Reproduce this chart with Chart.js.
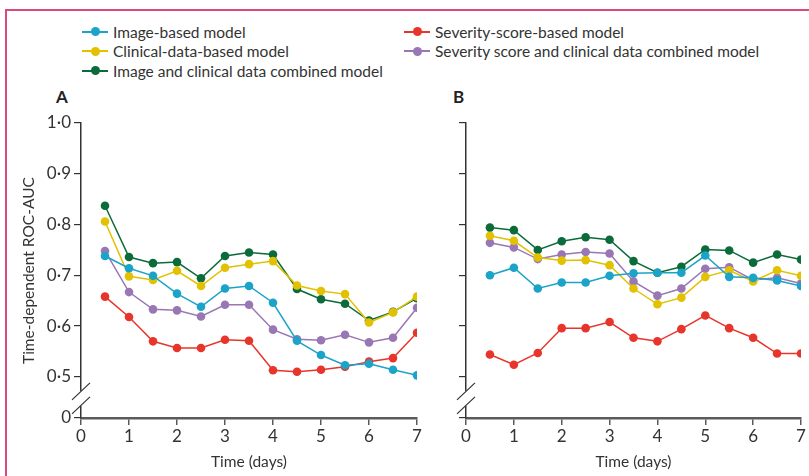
<!DOCTYPE html>
<html>
<head>
<meta charset="utf-8">
<script src="https://cdn.jsdelivr.net/npm/chart.js@4/dist/chart.umd.min.js"></script>
<style>
  body { margin: 0; background: #fff; font-family: Lato, "Open Sans", sans-serif; color: #333; }
  #stage { position: relative; width: 809px; height: 476px; overflow: hidden; }
  #frame { position: absolute; left: 5px; top: 9px; width: 900px; height: 600px;
           border-top: 2px solid #dc4a7c; border-left: 2px solid #dc4a7c; }
  #legend { position: absolute; left: 82px; top: 22px; display: grid;
            grid-template-columns: 322px auto; grid-auto-rows: 19.5px; font-size: 15.5px; }
  .item { display: flex; align-items: center; white-space: nowrap; }
  .mark { position: relative; width: 26px; height: 10px; margin-right: 5px; }
  .mark .ln { position: absolute; left: 0; right: 0; top: 4px; height: 2px; }
  .mark .dot { position: absolute; left: 8.5px; top: 0.5px; width: 9px; height: 9px; border-radius: 50%; }
  .panel-label { position: absolute; font-weight: bold; font-size: 17px; color: #222; }
  canvas { position: absolute; top: 0; }
</style>
</head>
<body>
<div id="stage">
  <div id="frame"></div>
  <div id="legend"></div>
  <div class="panel-label" style="left:56px;top:86px">A</div>
  <div class="panel-label" style="left:453px;top:86px">B</div>
  <canvas id="chartA" width="430" height="476" style="left:0"></canvas>
  <canvas id="chartB" width="379" height="476" style="left:430px"></canvas>
</div>
<script>
// Time points (days) and axis ticks
const days = [0.5, 1, 1.5, 2, 2.5, 3, 3.5, 4, 4.5, 5, 5.5, 6, 6.5, 7];
const xTicks = [0, 1, 2, 3, 4, 5, 6, 7];
const yTicks = [0.5, 0.6, 0.7, 0.8, 0.9, 1.0];
const yZero = 0.419; // value where the broken axis shows "0"

const seriesNames = [
  "Image-based model",
  "Severity-score-based model",
  "Clinical-data-based model",
  "Severity score and clinical data combined model",
  "Image and clinical data combined model",
];
const seriesColors = ["#1ba3c8", "#e8352b", "#e2c100", "#9977b5", "#0b6b3a"];

// Panel A
const imageA = [0.738, 0.714, 0.699, 0.664, 0.638, 0.674, 0.679, 0.646, 0.571, 0.543, 0.523, 0.526, 0.514, 0.503];
const severityA = [0.658, 0.618, 0.570, 0.557, 0.557, 0.573, 0.571, 0.513, 0.510, 0.514, 0.520, 0.530, 0.537, 0.587];
const clinicalA = [0.806, 0.698, 0.691, 0.709, 0.679, 0.715, 0.722, 0.728, 0.680, 0.669, 0.663, 0.607, 0.627, 0.658];
const sevClinA = [0.748, 0.667, 0.633, 0.631, 0.619, 0.642, 0.642, 0.593, 0.574, 0.572, 0.583, 0.568, 0.577, 0.636];
const imgClinA = [0.837, 0.736, 0.724, 0.726, 0.694, 0.738, 0.745, 0.741, 0.673, 0.653, 0.644, 0.611, 0.628, 0.655];

// Panel B
const imageB = [0.700, 0.715, 0.674, 0.686, 0.686, 0.699, 0.704, 0.705, 0.705, 0.739, 0.697, 0.695, 0.690, 0.679];
const severityB = [0.544, 0.524, 0.547, 0.596, 0.596, 0.608, 0.577, 0.570, 0.594, 0.621, 0.596, 0.577, 0.546, 0.546];
const clinicalB = [0.778, 0.768, 0.735, 0.729, 0.730, 0.720, 0.674, 0.643, 0.656, 0.697, 0.710, 0.688, 0.710, 0.699];
const sevClinB = [0.764, 0.755, 0.732, 0.741, 0.746, 0.743, 0.688, 0.660, 0.674, 0.713, 0.716, 0.691, 0.695, 0.684];
const imgClinB = [0.794, 0.789, 0.750, 0.767, 0.775, 0.770, 0.728, 0.705, 0.717, 0.751, 0.749, 0.725, 0.741, 0.731];

const textColor = "#333";
const tickFont = { family: "Lato, 'Open Sans', sans-serif", size: 17 };
const titleFont = { family: "Lato, 'Open Sans', sans-serif", size: 15.5 };

// Legend (HTML, two columns)
const legendEl = document.getElementById("legend");
seriesNames.forEach((name, i) => {
  const item = document.createElement("div");
  item.className = "item";
  item.innerHTML =
    '<span class="mark"><span class="ln" style="background:' + seriesColors[i] + '"></span>' +
    '<span class="dot" style="background:' + seriesColors[i] + '"></span></span>' +
    "<span>" + name + "</span>";
  legendEl.appendChild(item);
});

// Break marks on the y axis between 0 and 0.5
const axisBreak = {
  id: "axisBreak",
  afterDraw(chart) {
    const { ctx, chartArea } = chart;
    const y5 = chart.scales.y.getPixelForValue(yTicks[0]);
    const x = chartArea.left;
    ctx.save();
    ctx.fillStyle = "#fff";
    ctx.fillRect(x - 2, y5 + 14, 4, 15);
    ctx.strokeStyle = "#333";
    ctx.lineWidth = 1.2;
    ctx.beginPath();
    ctx.moveTo(x - 9, y5 + 23);
    ctx.lineTo(x + 9, y5 + 6);
    ctx.moveTo(x - 9, y5 + 37);
    ctx.lineTo(x + 9, y5 + 20);
    ctx.stroke();
    ctx.restore();
  },
};

function makePanel(canvasId, values, opt) {
  const datasets = values.map((vals, i) => ({
    label: seriesNames[i],
    data: days.map((d, j) => ({ x: d, y: vals[j] })),
    borderColor: seriesColors[i],
    backgroundColor: seriesColors[i],
    borderWidth: 1.5,
    pointRadius: 4.3,
    pointBorderWidth: 0,
    pointBackgroundColor: seriesColors[i],
  }));

  return new Chart(document.getElementById(canvasId), {
    type: "line",
    data: { datasets },
    plugins: [axisBreak],
    options: {
      responsive: false,
      animation: false,
      layout: { padding: { top: 123, right: opt.padRight, bottom: 0, left: 0 } },
      plugins: { legend: { display: false }, tooltip: { enabled: false } },
      scales: {
        x: {
          type: "linear",
          min: xTicks[0],
          max: xTicks[xTicks.length - 1],
          afterBuildTicks: (s) => { s.ticks = xTicks.map((v) => ({ value: v })); },
          afterFit: (s) => { s.height = 58; },
          ticks: { font: tickFont, color: textColor, padding: 1, maxRotation: 0, autoSkip: false },
          grid: { drawOnChartArea: false, drawTicks: true, tickLength: 7, color: "#5a5a5a", lineWidth: 1.5 },
          border: { display: true, color: "#5a5a5a", width: 2.5 },
          title: { display: true, text: "Time (days)", font: titleFont, color: textColor, padding: { top: 0, bottom: 5 } },
        },
        y: {
          type: "linear",
          min: yZero,
          max: yTicks[yTicks.length - 1],
          afterBuildTicks: (s) => { s.ticks = [yZero, ...yTicks].map((v) => ({ value: v })); },
          afterFit: (s) => { s.width = opt.yWidth; },
          ticks: {
            font: tickFont,
            color: textColor,
            padding: 3,
            callback: (v) => {
              if (!opt.yLabels) return "";
              return v < yTicks[0] - 0.01 ? "0" : v.toFixed(1).replace(".", "\u00b7");
            },
          },
          grid: { drawOnChartArea: false, drawTicks: true, tickLength: 7, color: "#333", lineWidth: 1.2 },
          border: { display: true, color: "#333", width: 1.5 },
          title: {
            display: opt.yLabels,
            text: "Time-dependent ROC-AUC",
            font: titleFont,
            color: textColor,
            padding: { top: 20, bottom: 0 },
          },
        },
      },
    },
  });
}

makePanel("chartA", [imageA, severityA, clinicalA, sevClinA, imgClinA], { yWidth: 81, padRight: 13, yLabels: true });
makePanel("chartB", [imageB, severityB, clinicalB, sevClinB, imgClinB], { yWidth: 36, padRight: 8, yLabels: false });
</script>
</body>
</html>
